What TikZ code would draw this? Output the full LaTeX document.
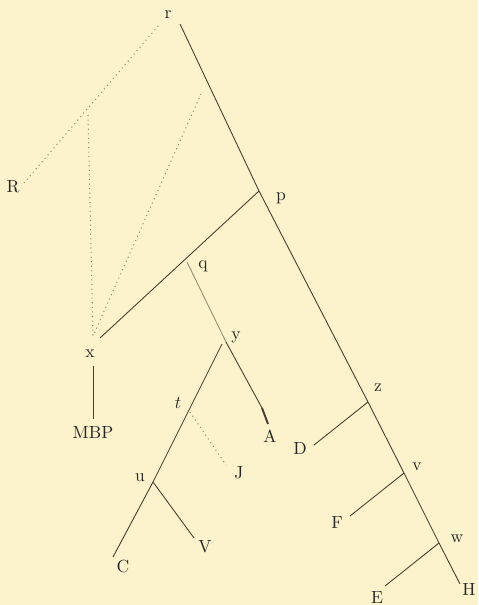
\documentclass[tikz,border=0pt]{standalone}
\usepackage{tikz}
\definecolor{paper}{RGB}{252,242,203}
\definecolor{ink}{RGB}{70,62,48}
\definecolor{faint}{RGB}{150,140,115}
\begin{document}
\begin{tikzpicture}[x=0.02cm,y=-0.02cm,
  every node/.style={font=\normalsize,text=black!85,inner sep=1pt},
  stem/.style={draw=ink,line width=0.5pt},
  lost/.style={draw=faint,line width=0.6pt,dotted}]
\fill[paper] (0,0) rectangle (478,605);
\useasboundingbox (0,0) rectangle (478,605);
% junctions and free ends of the tree
\coordinate (jr) at (180,24);
\coordinate (jp) at (259,191);
\coordinate (jx) at (100,338);
\coordinate (jd) at (93,336);
\coordinate (jq) at (187,262);
\coordinate (jy) at (226,342);
\coordinate (jt) at (222,344);
\coordinate (ja) at (262,408);
\coordinate (eA) at (268,424);
\coordinate (ju) at (153,482);
\coordinate (eC) at (113,557);
\coordinate (eV) at (194,538);
\coordinate (jj) at (190,412);
\coordinate (eJ) at (226,465);
\coordinate (jm) at (93,366);
\coordinate (eM) at (93,419);
\coordinate (jz) at (368,402);
\coordinate (eD) at (314,445);
\coordinate (jv) at (404,473);
\coordinate (eF) at (350,516);
\coordinate (jw) at (439,543);
\coordinate (eE) at (385,586);
\coordinate (eH) at (460,584);
\coordinate (eR) at (24,183);
\coordinate (jR) at (159,25);
\coordinate (d1) at (88,115);
\coordinate (d2) at (201,94);
% labels
\foreach \n/\px/\py in {r/168/15,R/13/187,p/281/198,q/203/266,x/90/354,
  y/236/338,A/270/436,D/300/448,J/239/473,u/140/478,V/205/547,C/123/566,
  z/378/388,v/417/467,F/337/523,w/457/539,H/469/589,E/377/598}
  \node (\n) at (\px,\py) {\n};
\node (t) at (178,403) {$t$};
\node (MBP) at (93,432) {MBP};
% solid stems
\draw[stem] (jr) -- (jp) -- (jz) -- (jv) -- (jw) -- (eH);
\draw[stem] (jp) -- (jx);
\draw[stem,draw=faint] (jq) -- (jy);
\draw[stem] (jy) -- (ja);
\draw[stem,line width=1.1pt] (ja) -- (eA);
\draw[stem] (jt) -- (ju) -- (eC);
\draw[stem] (ju) -- (eV);
\draw[stem] (jm) -- (eM);
\draw[stem] (jz) -- (eD);
\draw[stem] (jv) -- (eF);
\draw[stem] (jw) -- (eE);
% dotted, lost lines
\draw[lost] (eR) -- (jR);
\draw[lost] (d1) -- (jd);
\draw[lost] (d2) -- (jd);
\draw[lost] (jj) -- (eJ);
\end{tikzpicture}
\end{document}
